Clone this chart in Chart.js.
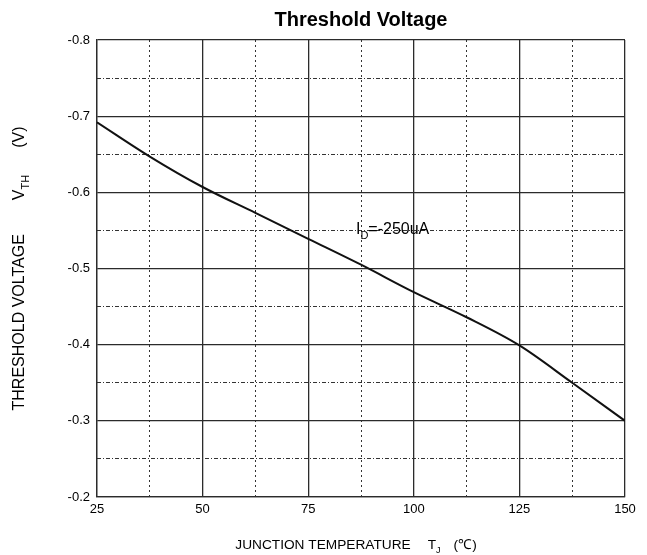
<!DOCTYPE html>
<html><head><meta charset="utf-8">
<script src="https://cdn.jsdelivr.net/npm/chart.js@4/dist/chart.umd.min.js"></script>
<style>html,body{margin:0;padding:0;background:#fff}#wrap{width:647px;height:555px}</style>
</head><body><div id="wrap"><canvas id="c" width="647" height="555"></canvas></div>
<script>
// ---- data ----
const temperatures = [25, 37.5, 50, 62.5, 75, 87.5, 100, 112.5, 125, 137.5, 150];
const thresholdVoltage = [-0.692, -0.647, -0.607, -0.573, -0.539, -0.505, -0.469, -0.436, -0.399, -0.350, -0.300];
const xTickValues = [25, 50, 75, 100, 125, 150];
const yTickValues = [-0.8, -0.7, -0.6, -0.5, -0.4, -0.3, -0.2];
const chartTitle = 'Threshold Voltage';
const xTitle = ['JUNCTION TEMPERATURE', 'T', 'J', '(\u2103)'];
const yTitle = ['THRESHOLD VOLTAGE', 'V', 'TH', '(V)'];
const seriesLabel = ['I', 'D', '=-250uA'];
const seriesLabelAt = {x: 86.3, y: -0.551};

const FAMILY = '"Liberation Sans", Arial, Helvetica, sans-serif';
const mids = arr => arr.slice(1).map((v, i) => (v + arr[i]) / 2);
const xMinor = mids(xTickValues);
const yMinor = mids(yTickValues);

function measureParts(ctx, parts, size) {
  const main = size + 'px ' + FAMILY, sub = Math.round(size * 0.68) + 'px ' + FAMILY;
  let w = 0;
  parts.forEach(p => {
    if (p.gap) { w += p.gap; return; }
    ctx.font = p.sub ? sub : main;
    p.w = ctx.measureText(p.t).width;
    w += p.w;
  });
  return {w, main, sub};
}
function renderParts(ctx, parts, size, cx, cy) {
  const m = measureParts(ctx, parts, size);
  let x = cx - m.w / 2;
  ctx.textBaseline = 'middle';
  ctx.textAlign = 'left';
  parts.forEach(p => {
    if (p.gap) { x += p.gap; return; }
    ctx.font = p.sub ? m.sub : m.main;
    ctx.fillText(p.t, x, p.sub ? cy + size * 0.4 : cy);
    x += p.w;
  });
}

const textPlugin = {
  id: 'texts',
  afterDraw(chart) {
    const ctx = chart.ctx, a = chart.chartArea;
    const cxPlot = (a.left + a.right) / 2;
    ctx.save();
    ctx.fillStyle = '#000';
    // chart title, centred over the plot area
    ctx.font = 'bold 20px ' + FAMILY;
    ctx.textAlign = 'center';
    ctx.textBaseline = 'middle';
    ctx.fillText(chartTitle, cxPlot, 20);
    // x axis title
    const xp = [{t: xTitle[0]}, {gap: 17}, {t: xTitle[1]}, {t: xTitle[2], sub: true}, {gap: 13}, {t: xTitle[3]}];
    renderParts(ctx, xp, 13.7, cxPlot - 5, 545);
    // y axis title
    ctx.save();
    ctx.translate(20, (a.top + a.bottom) / 2);
    ctx.rotate(-Math.PI / 2);
    const yp = [{t: yTitle[0]}, {gap: 34}, {t: yTitle[1]}, {t: yTitle[2], sub: true}, {gap: 27}, {t: yTitle[3]}];
    renderParts(ctx, yp, 16, 0, 0);
    ctx.restore();
    // series label
    const sx = chart.scales.x.getPixelForValue(seriesLabelAt.x);
    const sy = chart.scales.y.getPixelForValue(seriesLabelAt.y);
    const lp = [{t: seriesLabel[0]}, {t: seriesLabel[1], sub: true}, {t: seriesLabel[2]}];
    const m = measureParts(ctx, lp, 16);
    renderParts(ctx, lp, 16, sx + m.w / 2, sy);
    ctx.restore();
  }
};

const majorGrid = {color: '#2b2b2b', lineWidth: 1.3, drawTicks: false};
const tickFont = {family: FAMILY, size: 13};

new Chart(document.getElementById('c'), {
  type: 'line',
  data: {
    datasets: [{
      data: temperatures.map((t, i) => ({x: t, y: thresholdVoltage[i]})),
      borderColor: '#111',
      borderWidth: 2,
      pointRadius: 0,
      fill: false,
      cubicInterpolationMode: 'monotone',
      xAxisID: 'x', yAxisID: 'y'
    }]
  },
  options: {
    responsive: false,
    animation: false,
    layout: {padding: {left: 0, right: 22, top: 40, bottom: 0}},
    plugins: {
      legend: {display: false},
      tooltip: {enabled: false},
      title: {display: false}
    },
    scales: {
      x2: {
        type: 'linear', position: 'bottom', min: 25, max: 150,
        afterBuildTicks: s => { s.ticks = xMinor.map(v => ({value: v})); },
        ticks: {display: false},
        grid: {color: '#333', lineWidth: 1, drawTicks: false},
        border: {display: false, dash: [2, 3]},
        afterFit: s => { s.height = 0; }
      },
      x: {
        type: 'linear', position: 'bottom', min: 25, max: 150,
        afterBuildTicks: s => { s.ticks = xTickValues.map(v => ({value: v})); },
        ticks: {color: '#000', font: tickFont, padding: 5, maxRotation: 0, autoSkip: false},
        grid: majorGrid,
        border: {display: true, color: '#2b2b2b', width: 1.3},
        afterFit: s => { s.height = 58; }
      },
      y2: {
        type: 'linear', position: 'left', reverse: true, min: -0.8, max: -0.2,
        afterBuildTicks: s => { s.ticks = yMinor.map(v => ({value: v})); },
        ticks: {display: false},
        grid: {color: '#333', lineWidth: 1, drawTicks: false},
        border: {display: false, dash: [4, 2, 1, 2]},
        afterFit: s => { s.width = 0; }
      },
      y: {
        type: 'linear', position: 'left', reverse: true, min: -0.8, max: -0.2,
        afterBuildTicks: s => { s.ticks = yTickValues.map(v => ({value: v})); },
        ticks: {color: '#000', font: tickFont, padding: 7, callback: v => v.toFixed(1)},
        grid: majorGrid,
        border: {display: true, color: '#2b2b2b', width: 1.3},
        afterFit: s => { s.width = 97; }
      }
    }
  },
  plugins: [textPlugin]
});
</script>
</body></html>
